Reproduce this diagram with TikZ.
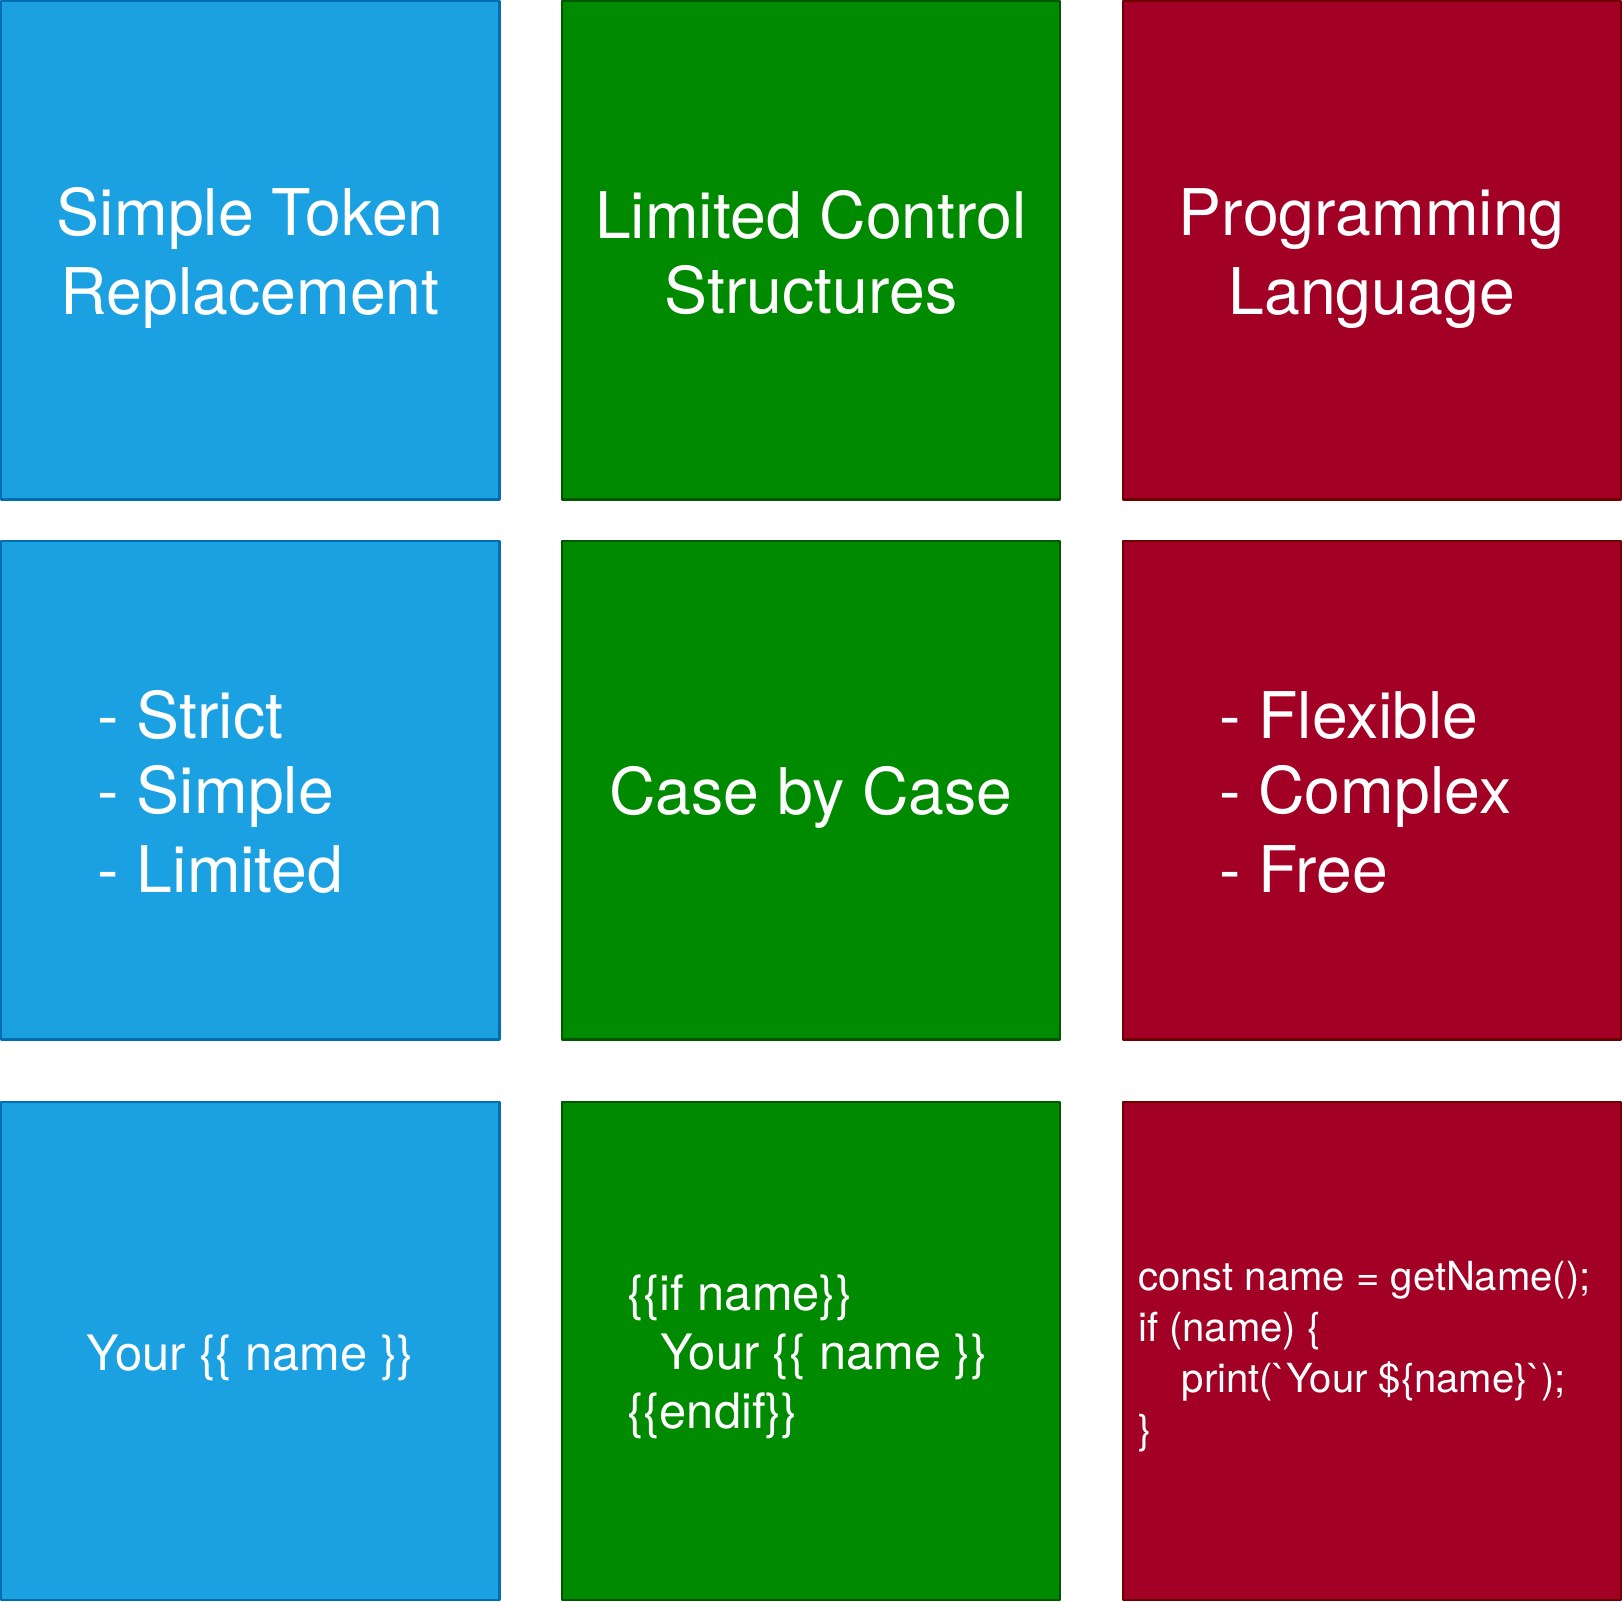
\documentclass[tikz,border=0pt]{standalone}
\usepackage{fontspec}
\setmainfont{TeX Gyre Heros}
\setmonofont{TeX Gyre Heros}
\usepackage{tikz}
\usetikzlibrary{positioning}
\definecolor{tokfill}{HTML}{1BA1E2}
\definecolor{tokline}{HTML}{006EAF}
\definecolor{ctrlfill}{HTML}{008A00}
\definecolor{ctrlline}{HTML}{005700}
\definecolor{progfill}{HTML}{A20025}
\definecolor{progline}{HTML}{6F0000}
% line struts, so that every line keeps the same height
\newcommand{\headstrut}{\rule[-5.7pt]{0pt}{36pt}}
\newcommand{\snipstrut}{\rule[-3.5pt]{0pt}{26pt}}
\newcommand{\onestrut}{\rule[-4.6pt]{0pt}{28.2pt}}
\newcommand{\codestrut}{\rule[-3.6pt]{0pt}{22.9pt}}
\tikzset{
    every picture/.style={line cap=round,line join=round},
    cell/.style={rectangle,minimum width=240pt,minimum height=240pt,
      inner sep=0pt,outer sep=0pt,line width=1pt,text=white,align=center,
      font=\fontsize{31}{36}\selectfont},
    tokcell/.style={cell,draw=tokline,fill=tokfill},
    ctrlcell/.style={cell,draw=ctrlline,fill=ctrlfill},
    progcell/.style={cell,draw=progline,fill=progfill},
    listtext/.style={text=white,inner sep=0pt,outer sep=0pt,align=left,
      font=\fontsize{31}{36}\selectfont},
    snippet/.style={text=white,inner sep=0pt,outer sep=0pt,align=left,
      font=\fontsize{23.5}{26}\selectfont},
    codetext/.style={text=white,inner sep=0pt,outer sep=0pt,align=left,
      font=\ttfamily\fontsize{19.3}{22.9}\selectfont}
}

\begin{document}
\begin{tikzpicture}
    \useasboundingbox (-0.5pt,0.5pt) rectangle (780.5pt,-770.5pt);
    % top row: names
    \node[tokcell,anchor=north west] (tokTitle) at (0pt,0pt)
      {\headstrut Simple Token\\\headstrut Replacement};
    \node[ctrlcell,right=30pt of tokTitle] (ctrlTitle)
      {\headstrut Limited Control\\\headstrut Structures};
    \node[progcell,right=30pt of ctrlTitle] (progTitle)
      {\headstrut Programming\\\headstrut Language};
    % middle row: traits
    \node[tokcell,below=20pt of tokTitle] (tokTraits) {};
    \node[ctrlcell,below=20pt of ctrlTitle] (ctrlTraits) {\headstrut Case by Case};
    \node[progcell,below=20pt of progTitle] (progTraits) {};
    \node[listtext,right=46.5pt of tokTraits.west] (tokList)
      {\headstrut- Strict\\\headstrut- Simple\\\headstrut- Limited};
    \node[listtext,right=46.5pt of progTraits.west] (progList)
      {\headstrut- Flexible\\\headstrut- Complex\\\headstrut- Free};
    % bottom row: examples
    \node[tokcell,below=30pt of tokTraits,font=\fontsize{23.5}{28.2}\selectfont] (tokCode)
      {\onestrut Your \{\{ name \}\}};
    \node[ctrlcell,below=30pt of ctrlTraits] (ctrlCode) {};
    \node[progcell,below=30pt of progTraits] (progCode) {};
    \node[snippet,right=31.5pt of ctrlCode.west] (ctrlSnip)
      {\snipstrut\{\{if name\}\}\\\snipstrut\hspace*{16pt}Your \{\{ name \}\}\\\snipstrut\{\{endif\}\}};
    \node[codetext,right=7.5pt of progCode.west] (progSnip)
      {\codestrut const name = getName();\\\codestrut if (name) \{\\
       \codestrut\hspace*{21pt}print(`Your \$\{name\}`);\\\codestrut\}};
\end{tikzpicture}
\end{document}
